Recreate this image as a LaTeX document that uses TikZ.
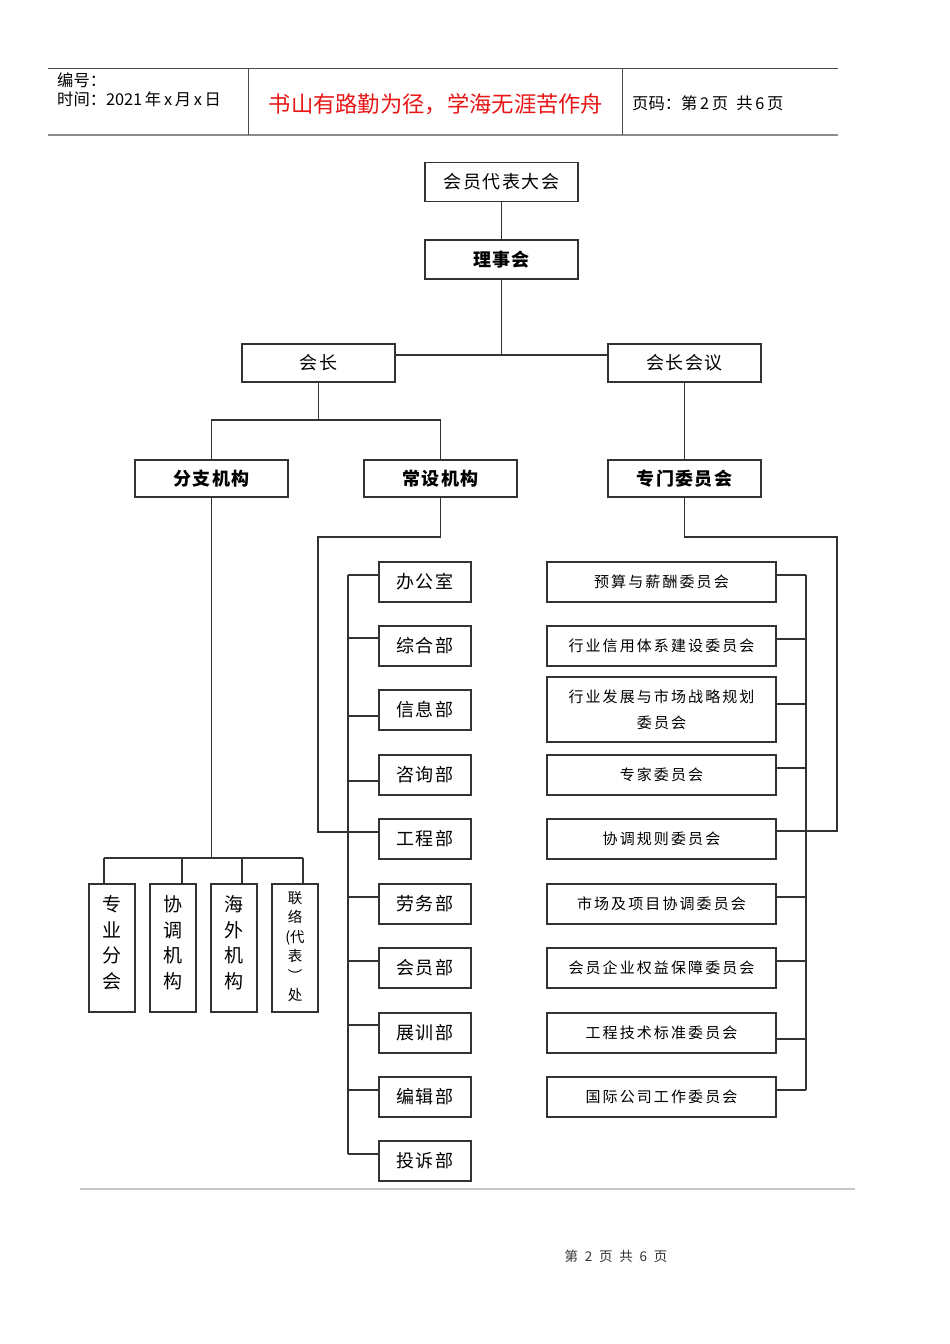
\documentclass[tikz,border=0pt]{standalone}
\usepackage{fontspec}
\setmainfont{Noto Sans CJK SC}
\newfontfamily\boxfont[LetterSpace=8]{Noto Sans CJK SC}
\newfontfamily\cmtefont[LetterSpace=14]{Noto Sans CJK SC}
\usetikzlibrary{positioning,calc}

\definecolor{titlered}{RGB}{232,22,22}

\begin{document}
\begin{tikzpicture}[
        x=1pt, y=-1pt,
        line/.style={line width=1.6pt, draw=black!80},
        box/.style={rectangle, line width=1.6pt, draw=black!80, fill=white, inner sep=0pt,
            minimum width=153pt, minimum height=39pt, align=center,
            font=\boxfont\fontsize{18}{20}\selectfont},
        boldbox/.style={box, font=\boxfont\fontsize{18}{20}\selectfont\bfseries},
        dept/.style={box, minimum width=92pt, minimum height=40pt},
        cmte/.style={box, minimum width=229pt, minimum height=40pt,
            font=\cmtefont\fontsize{15}{26}\selectfont},
        vbox/.style={box, minimum width=46pt, minimum height=128pt, text depth=12pt,
            font=\fontsize{19}{25.7}\selectfont},
        hdr/.style={font=\fontsize{16.3}{18}\selectfont, inner sep=0pt, anchor=west}
    ]
    \useasboundingbox (0,0) rectangle (950,1344);

    % page header
    \draw[black!70, line width=0.8pt] (48,68) -- (838,68);
    \draw[black!45, line width=2pt] (48,135) -- (838,135);
    \draw[black!70, line width=0.8pt] (248,68) -- (248,135);
    \draw[black!70, line width=0.8pt] (622,68) -- (622,135);
    \node[hdr] (hnum) at (57,80) {编号：};
    \node[hdr] (htime) at (57,99) {时间：2021\,年\,x\,月\,x\,日};
    \node[font=\fontsize{22.3}{24}\selectfont, text=titlered, inner sep=0pt] (motto) at (436,104) {书山有路勤为径，学海无涯苦作舟};
    \node[hdr] (hpage) at (632,103) {页码：第\,2\,页\enspace 共\,6\,页};

    % top levels
    \node[box] (congress) at (501.5,182) {会员代表大会};
    \node[boldbox] (council) at (501.5,259.5) {理事会};
    \node[box, minimum height=38pt] (president) at (318.5,363) {会长};
    \node[box, minimum height=38pt] (presmeet) at (684.5,363) {会长会议};
    \node[boldbox, minimum height=37pt] (branch) at (211.5,478.5) {分支机构};
    \node[boldbox, minimum height=37pt] (standing) at (440.5,478.5) {常设机构};
    \node[boldbox, minimum height=37pt] (special) at (684.5,478.5) {专门委员会};

    \coordinate (tj) at (501.5,355);
    \coordinate (pj) at (318.5,420);
    \draw[line] (congress) -- (council);
    \draw[line] (council) -- (tj);
    \draw[line] (president.east |- tj) -- (presmeet.west |- tj);
    \draw[line] (president) -- (pj);
    \draw[line] (branch) |- (pj) -| (standing);
    \draw[line] (presmeet) -- (special);

    % branch offices
    \node[vbox] (prof) at (112,948) {专\\业\\分\\会};
    \node[vbox] (harm) at (173,948) {协\\调\\机\\构};
    \node[vbox] (abroad) at (234,948) {海\\外\\机\\构};
    \node[vbox, text depth=4pt, font=\fontsize{14.5}{19.5}\selectfont] (liaison) at (295,948) {联\\络\\(代\\表\\︶\\处};
    \coordinate (bj) at (211.5,858);
    \coordinate (bd1) at (104,858);
    \coordinate (bd2) at (182,858);
    \coordinate (bd3) at (242,858);
    \coordinate (bd4) at (303,858);
    \draw[line] (branch) -- (bj);
    \draw[line] (bd1) -- (bd4);
    \foreach \nm [count=\i] in {prof,harm,abroad,liaison}
        \draw[line] (bd\i) -- (bd\i |- \nm.north);

    % standing departments
    \foreach \nm/\txt/\ty/\cy [count=\i] in {off/办公室/562/575, gen/综合部/626/638,
            info/信息部/690/716, cons/咨询部/755/781, eng/工程部/819/832, lab/劳务部/884/897,
            mem/会员部/948/961, expo/展训部/1013/1025, edit/编辑部/1077/1090, comp/投诉部/1141/1154}{
        \node[dept] (\nm) at (425,\ty+20) {\txt};
        \coordinate (dl\i) at (348,\cy);
        \draw[line] (dl\i) -- (dl\i -| \nm.west);
    }
    \draw[line] (dl1) -- (dl10);
    \coordinate (sl1) at (318,537);
    \coordinate (sl2) at (318,832);
    \draw[line] (standing) |- (sl1) -- (sl2) -- (sl2 -| eng.west);

    % special committees
    \node[cmte, minimum height=65pt] (dev) at (661.5,709.5) {行业发展与市场战略规划\\委员会};
    \foreach \nm/\txt/\ty/\cy [count=\i] in {bud/预算与薪酬委员会/562/575, cred/行业信用体系建设委员会/626/639,
            dev//-/704, exp/专家委员会/755/768, coord/协调规则委员会/819/831,
            mkt/市场及项目协调委员会/884/897, right/会员企业权益保障委员会/948/961,
            tech/工程技术标准委员会/1013/1039, intl/国际公司工作委员会/1077/1090}{
        \ifnum\i=3\else
            \node[cmte] (\nm) at (661.5,\ty+20) {\txt};
        \fi
        \coordinate (cr\i) at (806,\cy);
        \draw[line] (cr\i) -- (cr\i -| \nm.east);
    }
    \draw[line] (cr1) -- (cr9);
    \coordinate (sp1) at (837,537);
    \coordinate (sp2) at (837,831);
    \draw[line] (special) |- (sp1) -- (sp2) -- (sp2 -| coord.east);

    % page footer
    \draw[black!22, line width=1.5pt] (80,1189) -- (855,1189);
    \node[font=\fontsize{13.5}{16}\selectfont, text=black!80] (foot) at (616,1256) {第\enspace 2\enspace 页\enspace 共\enspace 6\enspace 页};
\end{tikzpicture}
\end{document}
